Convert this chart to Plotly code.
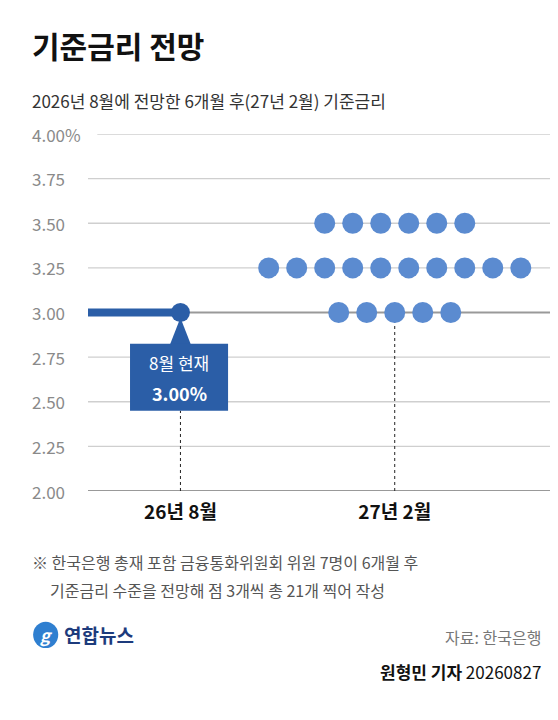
import plotly.graph_objects as go

FONT = "Noto Sans CJK KR"

# data
periods = ["26년 8월", "27년 2월"]
current_rate = 3.00
forecast_rates = [3.50, 3.25, 3.00]
forecast_counts = [6, 10, 5]
y_ticks = [4.00, 3.75, 3.50, 3.25, 3.00, 2.75, 2.50, 2.25, 2.00]
y_labels = ["4.00%", "3.75", "3.50", "3.25", "3.00", "2.75", "2.50", "2.25", "2.00"]

x_now = 0
x_next = 7.65
line_blue = "#2b5ea7"
dot_blue = "#5b8bd0"

fig = go.Figure()

# dotted guides
fig.add_trace(go.Scatter(x=[x_now, x_now], y=[2.0, 2.45], mode="lines",
                         line=dict(color="#222", width=1, dash="dot"), hoverinfo="skip"))
fig.add_trace(go.Scatter(x=[x_next, x_next], y=[2.0, 2.95], mode="lines",
                         line=dict(color="#222", width=1, dash="dot"), hoverinfo="skip"))

# current rate line
fig.add_trace(go.Scatter(x=[-3.3, x_now], y=[current_rate, current_rate], mode="lines",
                         line=dict(color=line_blue, width=8), hoverinfo="skip"))
fig.add_trace(go.Scatter(x=[x_now], y=[current_rate], mode="markers",
                         marker=dict(color=line_blue, size=19), hoverinfo="skip"))

# dot plot
xs, ys = [], []
for rate, n in zip(forecast_rates, forecast_counts):
    for i in range(n):
        xs.append(x_next + i - (n - 1) / 2)
        ys.append(rate)
fig.add_trace(go.Scatter(x=xs, y=ys, mode="markers",
                         marker=dict(color=dot_blue, size=21, line=dict(width=0)), hoverinfo="skip"))

shapes = []
for t in y_ticks:
    dark = t in (3.0, 2.0)
    shapes.append(dict(type="line", xref="paper", yref="y", x0=0 if t != 4.0 else 0.02, x1=1,
                       y0=t, y1=t, layer="below",
                       line=dict(color="#999" if dark else "#cfcfcf", width=2 if dark else 1.3)))
# callout box and pointer
shapes.append(dict(type="path", xref="x", yref="y",
                   path=f"M {x_now-0.4},2.81 L {x_now+0.4},2.81 L {x_now},2.97 Z",
                   fillcolor=line_blue, line=dict(width=0)))
shapes.append(dict(type="rect", xref="x", yref="y", x0=x_now - 1.8, x1=x_now + 1.7,
                   y0=2.45, y1=2.825, fillcolor=line_blue, line=dict(width=0)))
# logo circle
shapes.append(dict(type="circle", xref="paper", yref="paper", x0=-0.118, x1=-0.064,
                   y0=-0.44, y1=-0.366, fillcolor="#2f7fd0", line=dict(width=0)))

ann = []
for t, lab in zip(y_ticks, y_labels):
    ann.append(dict(x=-0.125, y=t, xref="paper", yref="y", text=lab, showarrow=False,
                    xanchor="left", font=dict(family=FONT, size=17, color="#8a8a8a")))
ann.append(dict(x=x_now - 0.05, y=2.72, xref="x", yref="y", showarrow=False,
                text="8월 현재", font=dict(family=FONT, size=17, color="white")))
ann.append(dict(x=x_now - 0.05, y=2.55, xref="x", yref="y", showarrow=False,
                text="<b>3.00%</b>", font=dict(family=FONT, size=18, color="white")))


def txt(x, y, text, size, color, anchor="left"):
    return dict(x=x, y=y, xref="paper", yref="paper", xanchor=anchor, yanchor="middle",
                showarrow=False, text=text, font=dict(family=FONT, size=size, color=color))


ann += [
    txt(-0.125, 1.249, "<b>기준금리 전망</b>", 30, "#111"),
    txt(-0.125, 1.095, "2026년 8월에 전망한 6개월 후(27년 2월) 기준금리", 17, "#333"),
    txt(-0.125, -0.199, "※ 한국은행 총재 포함 금융통화위원회 위원 7명이 6개월 후", 16, "#555"),
    txt(-0.085, -0.277, "기준금리 수준을 전망해 점 3개씩 총 21개 찍어 작성", 16, "#555"),
    txt(-0.091, -0.403, "<b><i>g</i></b>", 17, "white", "center"),
    txt(-0.056, -0.401, "<b>연합뉴스</b>", 19, "#1d3b7c"),
    txt(0.978, -0.409, "자료: 한국은행", 16, "#777", "right"),
    txt(0.978, -0.507, "<b>원형민 기자</b> 20260827", 17, "#111", "right"),
]

fig.update_layout(
    width=558, height=720, margin=dict(l=80, r=13, t=126, b=237),
    plot_bgcolor="white", paper_bgcolor="white", showlegend=False,
    shapes=shapes, annotations=ann,
    xaxis=dict(range=[-3.3, 13.3], showgrid=False, zeroline=False, showline=False,
               tickvals=[x_now, x_next], ticktext=[f"<b>{p}</b>" for p in periods],
               ticks="", ticklabelstandoff=8,
               tickfont=dict(family=FONT, size=19, color="#111")),
    yaxis=dict(range=[2.0, 4.0], showgrid=False, zeroline=False, showticklabels=False),
)

fig.write_html("out.html")
